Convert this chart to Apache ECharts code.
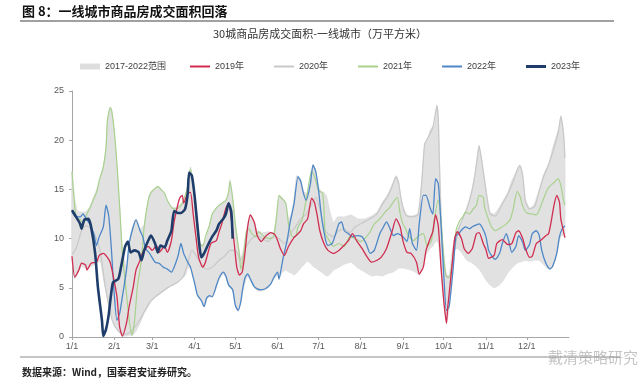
<!DOCTYPE html>
<html><head><meta charset="utf-8">
<script src="https://cdn.jsdelivr.net/npm/echarts@6/dist/echarts.min.js"></script>
<style>html,body{margin:0;padding:0;background:#fff}#c{width:640px;height:386px}</style>
</head><body><div id="c"></div>
<script>
// ---- tick labels (day-of-year of each month start) ----
const monthTickDays = [0,31,59,90,120,151,181,212,243,273,304,334];
const monthLabels = ['1/1','2/1','3/1','4/1','5/1','6/1','7/1','8/1','9/1','10/1','11/1','12/1'];
const thinNames = ['2019年','2020年','2021年','2022年'];
const thickName = '2023年';
const bandName = '2017-2022范围';

// ---- 2017-2022 range band: day, lower, upper ----
const bandDays = [0,2,4,7,10,13,16,19,21,23,25,26,28,29,31,33,35,37,40,42,44,47,50,53,56,58,61,63,66,70,73,77,81,83,85,87,89,91,93,95,97,99,101,103,106,108,111,113,115,116,118,120,122,124,126,129,131,134,136,140,144,148,151,152,154,157,159,161,163,165,168,170,173,175,177,179,181,183,185,187,189,192,195,200,205,210,215,220,224,228,231,233,236,238,240,241,243,246,249,252,255,257,259,261,263,265,266,268,269,270,272,275,277,279,281,283,286,290,293,296,298,299,301,304,307,310,313,316,320,323,326,328,329,331,333,336,339,343,346,350,353,356,358,359,361,362];
const bandLow = [7.8,5.9,6.4,7.2,7.0,7.1,7.3,7.6,7.6,6.0,4.5,3.8,2.6,2.2,1.4,0.8,0.4,0.1,0.1,0.2,0.1,0.6,1.4,2.4,3.1,3.6,4.0,4.2,4.5,4.9,5.2,5.5,6.0,6.2,7.0,7.0,6.0,4.9,4.0,3.7,3.1,3.8,4.1,4.0,5.0,5.8,6.4,6.0,5.2,5.0,4.7,3.1,2.6,3.5,5.0,6.2,5.7,5.0,4.7,4.7,5.0,5.8,6.3,5.8,6.5,6.8,6.6,6.5,6.3,6.5,7.0,7.3,7.7,7.5,7.2,7.0,6.8,6.6,6.4,6.2,6.3,6.8,7.0,7.4,7.6,7.0,6.6,6.2,6.3,6.2,6.4,6.5,6.6,6.8,7.0,7.0,7.0,6.9,6.8,6.6,6.3,6.8,8.0,8.6,9.0,9.2,9.5,9.8,9.5,8.5,5.3,1.3,3.0,5.5,8.8,9.0,8.6,7.8,7.6,7.3,7.0,6.9,6.5,5.8,5.3,5.0,5.2,5.6,6.5,7.0,7.4,7.6,7.6,7.7,7.8,7.7,7.8,7.8,7.4,6.9,7.1,8.3,9.8,10.2,10.4,10.1];
const bandHigh = [16.8,14.0,12.8,12.7,12.7,13.2,14.3,15.3,16.3,17.3,19.3,22.0,23.4,23.1,21.0,17.6,13.5,9.0,7.0,9.6,11.0,12.0,11.0,11.4,13.9,14.7,15.1,15.3,14.9,13.9,13.2,13.2,13.7,14.2,15.3,17.3,15.5,12.8,10.0,9.4,9.5,10.2,11.4,12.5,13.1,13.4,13.7,13.9,14.8,16.0,14.3,11.6,9.4,8.0,9.0,11.3,12.5,11.7,10.8,10.6,10.7,10.6,13.2,14.4,14.2,13.6,12.0,12.5,14.0,16.4,16.0,14.8,14.6,15.8,17.5,17.0,15.3,14.8,14.7,14.3,13.0,11.6,12.2,12.2,12.4,12.0,12.0,12.3,12.7,13.7,14.3,14.8,15.8,16.4,15.8,14.6,13.3,12.4,12.3,12.4,12.6,16.2,19.7,20.0,21.0,21.4,21.2,23.6,22.4,17.2,10.2,6.3,6.3,8.6,10.0,11.0,11.7,13.2,14.6,16.5,18.8,19.5,18.0,15.1,12.7,12.5,13.0,13.7,14.7,15.9,16.7,17.4,17.5,16.5,14.0,13.1,13.4,14.9,16.4,17.6,19.2,20.6,21.5,22.5,20.7,18.3];

// ---- yearly lines: [day-of-year, value] ----
const s2019 = [[0,8.2],[2,6.1],[5,6.8],[7,7.5],[10,7.3],[11,6.8],[14,7.5],[18,7.6],[20,8.3],[23,8.5],[26,8.1],[28,7.6],[30,6.4],[33,4.1],[35,1.0],[37,0.1],[40,1.4],[42,3.1],[45,5.1],[47,6.8],[50,7.8],[52,8.6],[56,9.2],[59,8.8],[62,9.3],[64,8.6],[68,9.2],[70,8.6],[73,9.8],[75,11.7],[79,14.1],[81,14.4],[82,13.6],[85,14.6],[87,14.7],[89,12.5],[91,10.2],[93,8.1],[96,7.1],[98,7.6],[102,9.5],[106,9.8],[108,10.7],[110,11.5],[113,13.1],[115,13.6],[117,12.0],[119,9.7],[121,7.1],[123,6.3],[125,6.6],[127,8.5],[129,11.2],[131,12.4],[134,11.6],[136,10.3],[139,9.7],[142,10.2],[146,10.6],[149,10.4],[151,9.8],[153,9.0],[156,8.3],[159,9.2],[163,10.1],[166,10.5],[168,10.8],[170,11.5],[173,12.0],[176,14.1],[178,13.7],[180,12.4],[182,10.8],[185,9.5],[188,8.8],[192,8.5],[196,8.8],[199,9.2],[203,9.8],[206,10.5],[209,9.8],[213,9.0],[216,8.3],[220,7.6],[224,7.8],[227,8.1],[231,9.0],[235,10.7],[238,12.0],[241,11.2],[243,9.8],[246,8.6],[249,8.5],[253,7.6],[255,6.4],[258,7.1],[260,8.8],[263,10.0],[265,10.7],[267,12.4],[269,11.3],[271,7.1],[273,3.7],[275,1.4],[276,3.1],[279,7.1],[281,10.0],[283,10.7],[286,10.0],[288,9.0],[291,8.5],[294,9.0],[297,10.5],[299,10.6],[302,9.5],[304,8.9],[306,8.0],[310,8.3],[312,9.5],[316,9.9],[320,9.4],[323,9.5],[326,10.6],[328,10.8],[331,10.0],[333,9.0],[336,8.1],[338,8.2],[341,9.5],[344,9.8],[348,10.3],[350,10.5],[352,11.8],[354,13.4],[356,14.4],[358,13.7],[359,12.0],[361,10.7],[362,10.1]];
const s2020 = [[0,8.4],[3,9.0],[7,10.8],[10,11.3],[14,11.0],[18,10.0],[21,8.5],[24,5.5],[27,3.2],[30,1.5],[34,0.6],[38,0.3],[42,0.4],[46,1.0],[50,1.8],[54,2.8],[58,3.7],[62,4.2],[66,4.6],[70,5.0],[74,5.3],[78,5.6],[82,6.2],[85,7.5],[88,8.8],[91,8.3],[94,7.6],[97,7.0],[100,6.9],[104,7.2],[108,7.8],[112,8.2],[116,8.8],[120,8.8],[124,7.8],[128,9.2],[132,10.0],[136,10.3],[140,10.0],[144,9.7],[148,10.2],[152,10.0],[156,9.5],[160,10.4],[164,11.2],[168,12.0],[172,12.5],[176,13.5],[179,14.2],[182,13.0],[185,11.0],[188,10.5],[192,10.2],[196,10.8],[200,11.0],[204,10.6],[208,11.2],[212,11.5],[216,11.8],[220,12.1],[224,12.5],[228,13.5],[232,14.3],[236,15.6],[238,16.3],[240,15.5],[242,13.8],[245,12.4],[249,12.2],[254,12.4],[257,16.0],[259,19.6],[262,20.4],[265,21.3],[268,23.5],[269,22.2],[270,17.0],[271,12.0],[273,7.6],[275,6.2],[277,6.0],[281,9.0],[285,11.4],[290,13.0],[294,15.0],[297,17.5],[299,19.4],[301,17.8],[304,14.9],[307,12.5],[311,12.3],[316,13.5],[320,14.5],[324,15.8],[327,17.0],[329,17.4],[331,16.4],[333,13.8],[336,13.0],[340,13.3],[343,14.8],[347,16.5],[350,17.5],[354,19.2],[357,20.7],[359,22.4],[361,20.6],[362,18.2]];
const s2021 = [[0,16.8],[1,14.9],[3,12.2],[6,11.9],[8,11.6],[11,12.5],[14,13.4],[18,14.7],[20,15.9],[23,17.3],[25,19.3],[26,22.0],[28,23.3],[29,23.1],[31,21.0],[33,17.6],[35,13.2],[37,8.5],[40,4.4],[42,1.7],[44,0.2],[46,1.7],[48,5.1],[51,7.8],[53,11.2],[56,13.9],[58,14.7],[61,15.1],[63,15.3],[66,14.9],[68,14.6],[70,13.9],[73,13.2],[75,13.0],[78,13.1],[81,13.6],[85,15.3],[87,17.1],[89,15.4],[91,12.7],[93,9.7],[96,9.2],[98,10.2],[101,11.4],[103,12.5],[106,13.1],[108,13.4],[110,13.6],[113,13.9],[115,14.7],[116,15.8],[118,14.1],[120,11.4],[123,8.3],[124,6.9],[126,8.3],[128,10.7],[130,11.0],[132,10.5],[135,10.2],[137,10.7],[141,10.2],[145,10.0],[148,10.2],[150,11.9],[152,14.4],[154,14.1],[157,13.6],[159,11.5],[162,10.2],[164,10.2],[166,11.2],[169,11.9],[171,13.2],[174,15.6],[176,16.9],[179,15.9],[181,14.9],[184,14.6],[185,13.2],[186,10.5],[189,9.8],[192,9.2],[196,9.5],[200,9.2],[204,10.2],[208,10.0],[212,9.7],[215,10.0],[219,10.7],[222,11.5],[226,12.0],[230,12.7],[233,13.1],[237,13.9],[239,14.2],[241,12.5],[243,11.5],[245,11.0],[247,10.3],[251,9.8],[254,10.2],[258,10.5],[261,9.2],[264,9.8],[266,11.9],[269,13.9],[271,11.9],[273,8.1],[275,6.1],[277,6.1],[280,8.1],[282,10.8],[285,11.9],[287,12.2],[289,12.7],[292,12.5],[294,12.9],[297,13.4],[299,14.4],[302,14.2],[303,13.2],[306,11.9],[308,11.2],[311,10.8],[315,11.1],[319,11.5],[322,12.0],[324,13.0],[327,14.8],[329,14.3],[331,13.3],[334,12.6],[338,12.5],[341,12.4],[344,13.2],[347,14.3],[350,15.2],[354,15.7],[357,16.1],[359,15.4],[361,13.9],[362,13.4]];
const s2022 = [[0,12.7],[3,12.2],[6,12.2],[8,12.5],[11,11.9],[13,11.5],[16,10.5],[18,9.3],[20,10.2],[23,11.2],[25,13.4],[27,12.3],[29,8.8],[31,4.4],[33,1.7],[35,2.4],[37,4.1],[40,6.8],[42,9.5],[45,11.2],[47,11.9],[50,10.8],[52,10.2],[54,9.0],[57,8.5],[61,7.6],[64,7.5],[67,7.1],[70,6.9],[73,6.6],[75,7.1],[78,8.3],[80,9.5],[82,8.5],[85,7.6],[87,7.1],[90,5.5],[92,4.3],[95,3.7],[97,3.1],[99,4.0],[101,4.2],[103,4.1],[106,5.2],[108,6.0],[111,6.6],[113,6.2],[115,5.3],[118,4.8],[120,3.2],[122,2.7],[124,3.6],[125,4.6],[127,6.0],[129,6.4],[131,5.9],[134,5.1],[138,4.8],[142,4.9],[146,5.4],[148,6.0],[151,6.6],[152,5.9],[155,8.0],[158,9.8],[160,11.5],[163,13.5],[166,16.3],[168,15.8],[170,14.6],[172,13.9],[175,15.5],[177,17.5],[179,16.8],[181,15.0],[183,12.5],[186,10.0],[188,9.3],[191,9.5],[193,10.2],[196,11.5],[198,11.7],[200,10.8],[203,10.5],[206,10.2],[209,10.3],[213,10.2],[216,9.5],[219,8.5],[222,8.8],[226,10.5],[228,11.0],[231,11.7],[233,11.2],[236,10.3],[239,10.5],[243,10.2],[246,9.7],[248,11.0],[250,9.5],[253,8.8],[255,11.5],[258,14.4],[260,14.4],[263,13.1],[265,12.5],[267,16.1],[269,15.6],[271,11.5],[273,6.4],[275,2.7],[277,3.1],[280,7.1],[282,10.3],[284,10.5],[287,11.0],[289,11.2],[292,11.0],[294,11.2],[297,11.4],[299,11.5],[301,11.2],[304,10.2],[306,8.8],[309,8.1],[311,7.9],[314,8.5],[316,9.5],[319,10.5],[321,9.6],[323,8.6],[326,9.2],[328,10.3],[331,9.6],[333,8.8],[336,9.4],[338,10.5],[341,10.8],[343,10.4],[345,8.8],[348,7.5],[351,6.9],[353,7.2],[356,8.5],[358,10.2],[360,11.0],[362,11.3]];
const s2023 = [[0,12.9],[3,12.2],[6,11.5],[7,11.0],[9,11.9],[12,12.0],[14,11.2],[17,8.5],[19,5.1],[22,1.7],[23,0.1],[25,0.8],[27,2.3],[30,5.5],[34,5.9],[36,7.1],[39,9.2],[41,9.7],[43,8.6],[46,8.8],[49,8.6],[51,7.8],[53,8.8],[56,9.8],[58,10.3],[61,9.5],[63,8.6],[65,9.3],[68,9.1],[70,9.8],[73,10.8],[75,12.8],[78,12.6],[80,12.6],[83,13.0],[85,14.6],[86,16.7],[88,16.4],[90,14.4],[92,11.5],[95,8.1],[97,8.5],[100,9.4],[103,10.2],[106,10.8],[108,11.5],[111,12.0],[113,12.5],[115,13.6],[117,12.7],[118,10.0]];

const FONT = 'Liberation Sans, Noto Sans CJK SC';
const CJK = 'Noto Sans CJK SC';

const chart = echarts.init(document.getElementById('c'), null, {renderer: 'canvas'});

function lineSeries(name, data, color, width, z) {
  return {
    name: name, type: 'line', data: data, symbol: 'none', showSymbol: false,
    smooth: 0.2,
    lineStyle: {color: color, width: width}, itemStyle: {color: color},
    z: z, silent: true, animation: false
  };
}

const legendText = {fontSize: 9, color: '#404040', fontFamily: FONT};

const option = {
  backgroundColor: '#ffffff',
  animation: false,
  title: {
    text: '30城商品房成交面积-一线城市（万平方米）',
    left: 'center', top: 23,
    textStyle: {fontSize: 11, fontWeight: 'normal', color: '#333', fontFamily: CJK}
  },
  legend: [
    {
      data: [{name: bandName, icon: 'rect'}],
      left: 75, top: 57, itemWidth: 20, itemHeight: 6,
      textStyle: legendText, selectedMode: false
    },
    {
      data: thinNames.map(function (n) { return {name: n, icon: 'rect'}; }),
      left: 185, top: 57, itemWidth: 20, itemHeight: 2, itemGap: 30,
      textStyle: legendText, selectedMode: false
    },
    {
      data: [{name: thickName, icon: 'rect'}],
      left: 521, top: 57, itemWidth: 20, itemHeight: 3,
      textStyle: legendText, selectedMode: false
    }
  ],
  grid: {left: 72, right: 71, top: 91, bottom: 49, containLabel: false},
  xAxis: {
    type: 'value', min: 0, max: 365,
    splitLine: {show: false},
    axisLine: {show: true, lineStyle: {color: '#a6a6a6', width: 1}},
    axisTick: {show: true, length: 3, lineStyle: {color: '#a6a6a6'}, customValues: monthTickDays},
    axisLabel: {
      customValues: monthTickDays, margin: 5, fontSize: 9, color: '#595959', fontFamily: FONT,
      formatter: function (v) { const i = monthTickDays.indexOf(v); return i >= 0 ? monthLabels[i] : ''; }
    }
  },
  yAxis: {
    type: 'value', min: 0, max: 25, interval: 5,
    splitLine: {show: false},
    axisLine: {show: true, lineStyle: {color: '#a6a6a6', width: 1}},
    axisTick: {show: true, length: 3, lineStyle: {color: '#a6a6a6'}},
    axisLabel: {margin: 8, fontSize: 9, color: '#595959', fontFamily: FONT}
  },
  series: [
    {
      name: bandName, type: 'custom', coordinateSystem: 'cartesian2d',
      data: [[0, 0]], itemStyle: {color: '#dedede'}, z: 1, silent: true,
      renderItem: function (params, api) {
        if (params.dataIndex !== 0) return null;
        const pts = [];
        for (let i = 0; i < bandDays.length; i++) pts.push(api.coord([bandDays[i], bandHigh[i]]));
        for (let i = bandDays.length - 1; i >= 0; i--) pts.push(api.coord([bandDays[i], bandLow[i]]));
        return {type: 'polygon', shape: {points: pts, smooth: 0.15}, style: {fill: '#e1e1e1', stroke: '#d6d6d6', lineWidth: 0.6}};
      }
    },
    lineSeries('2020年', s2020, '#c8c8c8', 1.2, 2),
    lineSeries('2021年', s2021, '#a9d18e', 1.2, 3),
    lineSeries('2022年', s2022, '#4d87c7', 1.3, 4),
    lineSeries('2019年', s2019, '#d02d50', 1.3, 5),
    lineSeries('2023年', s2023, '#1f3d6b', 2.6, 6)
  ],
  graphic: [
    {type: 'text', x: 22, y: 11, style: {text: '图 8：一线城市商品房成交面积回落', font: 'bold 13px "Noto Sans CJK SC"', fill: '#111', verticalAlign: 'middle'}},
    {type: 'line', shape: {x1: 20, y1: 21, x2: 614, y2: 21}, style: {stroke: '#a0a0a0', lineWidth: 2}},
    {type: 'line', shape: {x1: 20, y1: 357, x2: 620, y2: 357}, style: {stroke: '#8c8c8c', lineWidth: 1}},
    {type: 'text', x: 22, y: 372, style: {text: '数据来源：Wind，国泰君安证券研究。', font: 'bold 10px "Noto Sans CJK SC"', fill: '#222', verticalAlign: 'middle'}},
    {type: 'text', x: 548, y: 357, style: {text: '戴清策略研究', font: '15px "Noto Sans CJK SC"', fill: 'rgba(150,150,150,0.55)', verticalAlign: 'middle'}}
  ]
};
chart.setOption(option);
</script>
</body></html>
